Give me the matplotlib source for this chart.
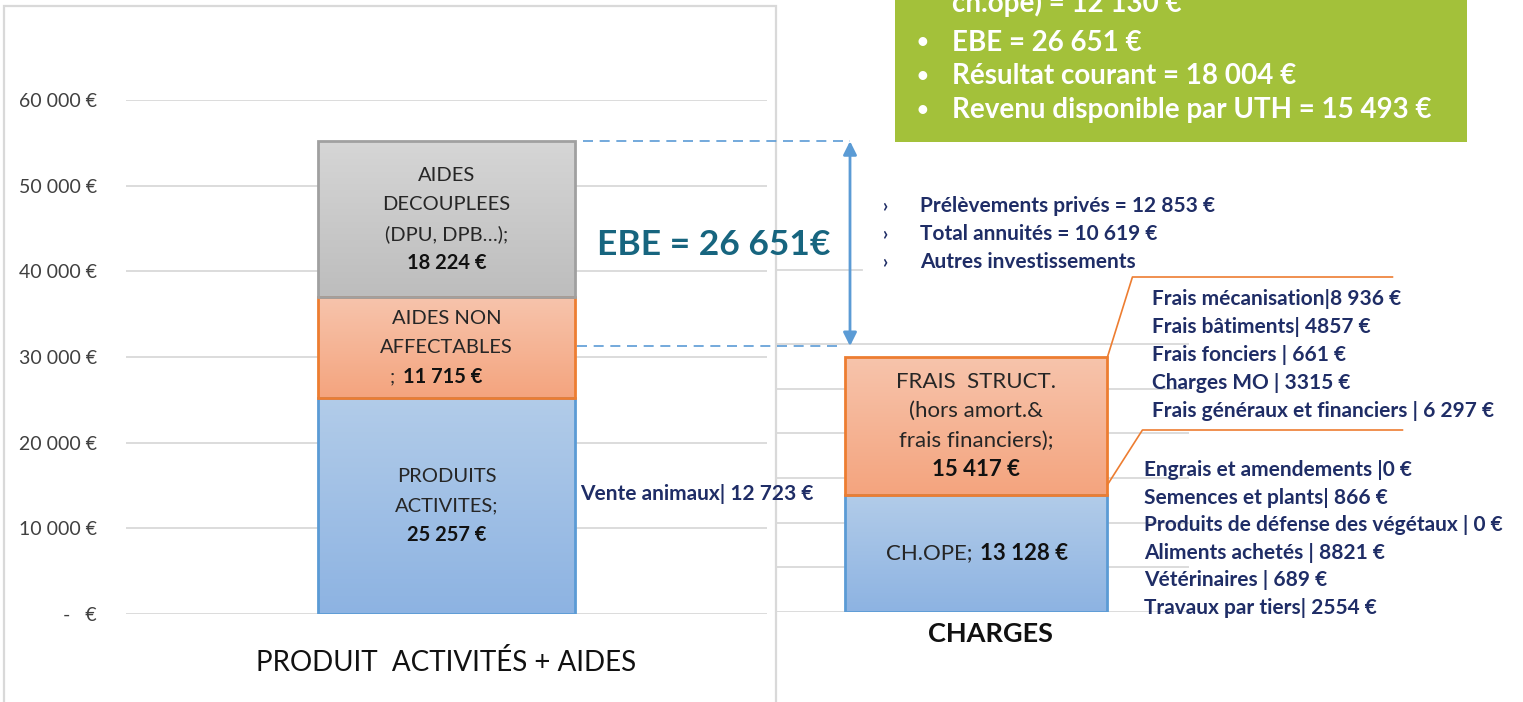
import numpy as np
import matplotlib
matplotlib.use("Agg")
import matplotlib.pyplot as plt
from matplotlib import font_manager
from matplotlib.colors import LinearSegmentedColormap
from matplotlib.patches import Rectangle

# ---- data ----
produit_lines = [["PRODUITS", "ACTIVITES;"], ["AIDES NON", "AFFECTABLES"],
                 ["AIDES", "DECOUPLEES", "(DPU, DPB…);"]]
produit_values = [25257, 11715, 18224]
charge_lines = [["CH.OPE;"], ["FRAIS  STRUCT.", "(hors amort.&", "frais financiers);"]]
charge_values = [13128, 15417]
ebe = 26651

yticks = [0, 10000, 20000, 30000, 40000, 50000, 60000]
ytick_labels = ["-   €", "10 000 €", "20 000 €", "30 000 €", "40 000 €", "50 000 €", "60 000 €"]
right_grid = [0, 5000, 10000, 15000, 20000, 25000, 30000]

vente_animaux = "Vente animaux| 12 723 €"
frais_struct_details = ["Frais mécanisation|8 936 €", "Frais bâtiments| 4857 €",
                        "Frais fonciers | 661 €", "Charges MO | 3315 €",
                        "Frais généraux et financiers | 6 297 €"]
charges_ope_details = ["Engrais et amendements |0 €", "Semences et plants| 866 €",
                       "Produits de défense des végétaux | 0 €", "Aliments achetés | 8821 €",
                       "Vétérinaires | 689 €", "Travaux par tiers| 2554 €"]
prelevements = ["Prélèvements privés = 12 853 €", "Total annuités = 10 619 €",
                "Autres investissements"]
synthese = ["ch.ope) = 12 130 €", "EBE = 26 651 €", "Résultat courant = 18 004 €",
            "Revenu disponible par UTH = 15 493 €"]

def fmt(v):
    return f"{v:,}".replace(",", " ") + " €"

# ---- fonts / colours ----
names = {f.name for f in font_manager.fontManager.ttflist}
NARROW = "Liberation Sans Narrow" if "Liberation Sans Narrow" in names else "Lato"
plt.rcParams["font.family"] = ["Lato", "DejaVu Sans"]

NAVY = "#1f2d66"
TEAL = "#17657f"
GREEN = "#a3c13a"
GRID = "#d9d9d9"
seg_colors = [("#b2cce9", "#8db3e2", "#5b9bd5"),
              ("#f7c4ac", "#f4a47e", "#ed7d31"),
              ("#d6d6d6", "#bdbdbd", "#a0a0a0")]

W, H = 1523, 702
fig = plt.figure(figsize=(W / 100, H / 100), dpi=100)


def gradient_bars(ax, bars, colors):
    for rect, (top, bottom, _) in zip(bars, colors):
        x0, y0 = rect.get_x(), rect.get_y()
        cmap = LinearSegmentedColormap.from_list("g", [bottom, top])
        grad = np.linspace(0, 1, 256).reshape(-1, 1)
        im = ax.imshow(grad, extent=(x0, x0 + rect.get_width(), y0, y0 + rect.get_height()),
                       origin="lower", cmap=cmap, aspect="auto", zorder=1)
        im.set_clip_path(rect)


def segment_text(ax, x, bottoms, values, lines_list, family, size, spacing, sep=False):
    for b, v, lines in zip(bottoms, values, lines_list):
        mid = b + v / 2
        if sep:
            # single line "LABEL;  value"
            ax.annotate(lines[0], (x, mid), xytext=(-3, 0), textcoords="offset points",
                        ha="right", va="center", fontsize=size, family=family, color="#262626")
            ax.annotate(fmt(v), (x, mid), xytext=(3, 0), textcoords="offset points",
                        ha="left", va="center", fontsize=size, family=family,
                        fontweight="bold", color="#111111")
            continue
        all_lines = lines + [fmt(v)]
        n = len(all_lines)
        for i, s in enumerate(all_lines):
            off = ((n - 1) / 2 - i) * spacing
            ax.annotate(s, (x, mid), xytext=(0, off), textcoords="offset points",
                        ha="center", va="center", fontsize=size, family=family,
                        color="#111111" if i == n - 1 else "#262626",
                        fontweight="bold" if i == n - 1 else "normal")


# ---- left chart: produits + aides ----
ax1 = fig.add_axes([126 / W, 1 - 614 / H, (767 - 126) / W, (614 - 100) / H])
p_bottoms = np.concatenate([[0], np.cumsum(produit_values)[:-1]])
bars1 = ax1.bar(0, produit_values, bottom=p_bottoms, width=0.8, facecolor="none",
                edgecolor=[c[2] for c in seg_colors], linewidth=2, zorder=2)
gradient_bars(ax1, bars1, seg_colors)
ax1.set_xlim(-1, 1)
ax1.set_ylim(0, 60000)
ax1.set_yticks(yticks, ytick_labels, family=NARROW, fontsize=14, color="#404040")
ax1.set_xticks([0], ["PRODUIT  ACTIVITÉS + AIDES"], family=NARROW, fontsize=20, color="#111111")
ax1.tick_params(length=0)
ax1.tick_params(axis="y", pad=21)
ax1.tick_params(axis="x", pad=25)
ax1.yaxis.grid(True, color=GRID, lw=1.3)
ax1.set_axisbelow(True)
for s in ax1.spines.values():
    s.set_visible(False)

# the orange segment label mixes regular ";" and bold value
segment_text(ax1, 0, [p_bottoms[0]], [produit_values[0]], [produit_lines[0]], NARROW, 14.5, 21.2)
segment_text(ax1, 0, [p_bottoms[2]], [produit_values[2]], [produit_lines[2]], NARROW, 14.5, 21.2)
mid_o = p_bottoms[1] + produit_values[1] / 2
for i, s in enumerate(produit_lines[1]):
    ax1.annotate(s, (0, mid_o), xytext=(0, (1 - i) * 21.2), textcoords="offset points",
                 ha="center", va="center", fontsize=14.5, family=NARROW, color="#262626")
ax1.annotate(fmt(produit_values[1]), (0, mid_o), xytext=(-31, -21.2), textcoords="offset points",
             ha="left", va="center", fontsize=14.5, family=NARROW, fontweight="bold", color="#111111")
ax1.annotate(";", (0, mid_o), xytext=(-37, -21.2), textcoords="offset points",
             ha="right", va="center", fontsize=14.5, family=NARROW, color="#262626")

# ---- right chart: charges ----
ax2 = fig.add_axes([776 / W, 1 - 612 / H, (1189 - 776) / W, (612 - 270) / H])
c_bottoms = np.concatenate([[0], np.cumsum(charge_values)[:-1]])
c_colors = [seg_colors[0], seg_colors[1]]
bars2 = ax2.bar(-0.03, charge_values, bottom=c_bottoms, width=1.27, facecolor="none",
                edgecolor=[c[2] for c in c_colors], linewidth=2, zorder=2)
gradient_bars(ax2, bars2, c_colors)
ax2.set_xlim(-1, 1)
ax2.set_ylim(0, 38300)
ax2.set_yticks(right_grid, [""] * len(right_grid))
ax2.set_xticks([0.04], ["CHARGES"], fontsize=19.5, fontweight="bold", color="#111111")
ax2.tick_params(length=0)
ax2.tick_params(axis="x", pad=7)
ax2.yaxis.grid(True, color=GRID, lw=1.3)
ax2.axhline(38300, xmax=86 / 413, color=GRID, lw=1.3, clip_on=False)
ax2.set_axisbelow(True)
ax2.patch.set_alpha(0)
for s in ax2.spines.values():
    s.set_visible(False)
segment_text(ax2, -0.03, [c_bottoms[0]], [charge_values[0]], [charge_lines[0]], "Lato", 16, 21, sep=True)
segment_text(ax2, -0.03, [c_bottoms[1]], [charge_values[1]], [charge_lines[1]], "Lato", 16, 21)

# ---- overlay for annotations (pixel coords, origin bottom-left) ----
ax0 = fig.add_axes([0, 0, 1, 1], zorder=5)
ax0.set_xlim(0, W)
ax0.set_ylim(0, H)
ax0.axis("off")
ax0.patch.set_alpha(0)


def px(ax, x, y):
    return ax.transData.transform((x, y))


def txt(x, y, s, **kw):
    ax0.text(x, H - y, s, **kw)


# left chart frame
ax0.add_patch(Rectangle((4, -5), 772, H - 6 + 5, fill=False, edgecolor=GRID, lw=1.6))

# EBE arrow between total produits and total charges
top_total = sum(produit_values)
x_l, y_top = px(ax1, 0.4, top_total)
_, y_bot = px(ax2, 0, sum(charge_values))
y_bot += 11
x_arrow = 850
ax0.plot([x_l + 8, x_arrow], [y_top, y_top], color="#5b9bd5", lw=1.2, ls=(0, (6, 4)))
ax0.plot([577, x_arrow - 12], [y_bot, y_bot], color="#5b9bd5", lw=1.2, ls=(0, (6, 4)))
ax0.annotate("", xy=(x_arrow, y_top), xytext=(x_arrow, y_bot),
             arrowprops=dict(arrowstyle="<|-|>", color="#5b9bd5", lw=2, mutation_scale=20,
                             shrinkA=0, shrinkB=0))
txt(714, 245, "EBE = " + fmt(ebe).replace(" €", "€"), fontsize=25.5, fontweight="bold",
    color=TEAL, ha="center", va="center")

# vente animaux
txt(580, 494, vente_animaux, fontsize=15, fontweight="bold", color=NAVY, ha="left", va="center")

# prelevements
for i, s in enumerate(prelevements):
    y = 206 + i * 28
    txt(885, y, "›", fontsize=13, fontweight="bold", color=NAVY, ha="center", va="center")
    txt(920, y, s, fontsize=15, fontweight="bold", color=NAVY, ha="left", va="center")

# callouts from charges bar
x_r, y_r_top = px(ax2, -0.03 + 1.27 / 2, sum(charge_values))
_, y_r_mid = px(ax2, 0, charge_values[0])
ax0.plot([x_r, x_r + 25, x_r + 285], [y_r_top, H - 277, H - 277], color="#ed7d31", lw=1.2)
ax0.plot([x_r, x_r + 35, x_r + 295], [y_r_mid + 10, H - 430, H - 430], color="#ed7d31", lw=1.2)
for i, s in enumerate(frais_struct_details):
    txt(1152, 299 + i * 28, s, fontsize=15, fontweight="bold", color=NAVY, ha="left", va="center")
for i, s in enumerate(charges_ope_details):
    txt(1144, 470 + i * 27.6, s, fontsize=15, fontweight="bold", color=NAVY, ha="left", va="center")

# green summary box
ax0.add_patch(Rectangle((895, H - 142), 572, 142, facecolor=GREEN, edgecolor="none"))
for i, s in enumerate(synthese):
    y = 3 if i == 0 else 43 + (i - 1) * 33.5
    if i > 0:
        txt(922, y, "•", fontsize=17, color="white", ha="center", va="center")
    txt(952, y, s, fontsize=20, fontweight="bold", color="white", ha="left", va="center",
        clip_on=True)

fig.savefig("out.png", dpi=100)
